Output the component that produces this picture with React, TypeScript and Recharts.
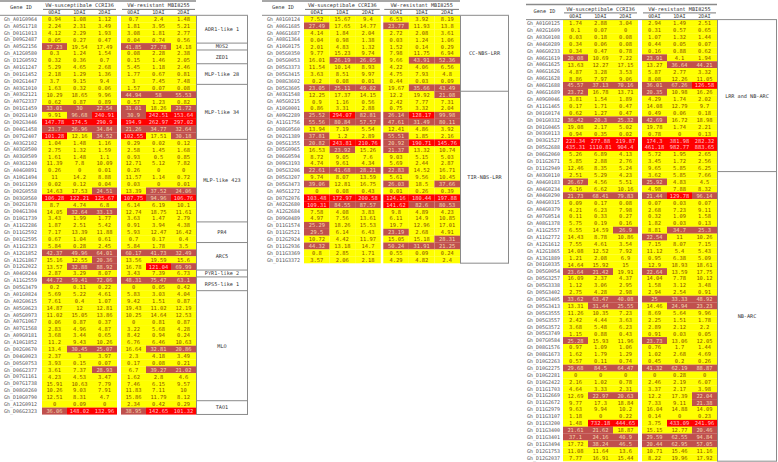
import React from "react";
import { BarChart, Bar, XAxis, YAxis } from "recharts";

// expression values (FPKM) of resistance genes, 0/1/2 days after inoculation
const TIMES = ["0DAI", "1DAI", "2DAI"];
const SUSC_TITLE = "VW-susceptibale CCRI36";
const RES_TITLE = "VW-resistant MBI8255";

const t1Genes = [
  "Gh_A01G0964", "Gh_A05G1718", "Gh_D01G1013", "Gh_D09G2487", "Gh_A05G2156", "Gh_A12G0580",
  "Gh_D12G0592", "Gh_A01G1247", "Gh_D01G1452", "Gh_D02G1447", "Gh_A03G1010", "Gh_A03G2121",
  "Gh_A07G2337", "Gh_D01G1459", "Gh_D02G1410", "Gh_D02G3446", "Gh_D04G1458", "Gh_D07G2407",
  "Gh_A03G2102", "Gh_A03G0500", "Gh_A03G0509", "Gh_A03G1240", "Gh_A04G0891", "Gh_A10G1494",
  "Gh_D01G1269", "Gh_D02G0558", "Gh_D03G0560", "Gh_D02G1678", "Gh_D04G1304", "Gh_D10G1739",
  "Gh_A11G2286", "Gh_D11G2592", "Gh_D01G2595", "Gh_A11G2323", "Gh_A12G1852", "Gh_A12G1867",
  "Gh_D12G2022", "Gh_A04G0244", "Gh_A11G2559", "Gh_D05G3479", "Gh_A01G0824", "Gh_A02G0615",
  "Gh_A05G0623", "Gh_A05G0973", "Gh_A07G1067", "Gh_A07G1568", "Gh_A09G0181", "Gh_A10G1852",
  "Gh_D02G0670", "Gh_D04G0023", "Gh_D05G0753", "Gh_D06G2377", "Gh_D07G1161", "Gh_D07G1738",
  "Gh_D08G0260", "Gh_D10G0790", "Gh_A12G0912", "Gh_D06G2323",
];
const t1Ccri36 = [
  [0.94, 1.08, 1.12], [2.24, 2.31, 3.49], [4.12, 2.29, 1.93], [0.05, 0.27, 0.47], [37.23, 19.54, 17.49],
  [0.3, 1.24, 1.54], [0.32, 0.36, 0.7], [5.29, 4.65, 2.68], [2.18, 1.29, 1.36], [3.7, 9.15, 9.4],
  [1.63, 0.32, 0.06], [10.29, 18.65, 9.96], [0.62, 0.87, 0.89], [33.01, 30, 22.54], [9.91, 96.68, 240.91],
  [147.78, 174.5, 290.9], [23.7, 26.96, 34.84], [101.28, 12.16, 34.52], [1.04, 1.48, 1.16], [2.75, 1.32, 1.59],
  [1.61, 1.48, 1.1], [11.39, 7.8, 10.09], [0.26, 0, 0.01], [11, 14.2, 8.88], [0.02, 0.12, 0.04],
  [14.63, 17.53, 24.51], [106.28, 122.21, 125.67], [8.7, 4.74, 6.8], [14.05, 32.64, 33.13], [3.43, 1.99, 1.77],
  [1.87, 2.51, 5.42], [7.17, 13.39, 11.88], [0.67, 1.04, 0.61], [5.84, 0.28, 2.45], [42.37, 49.96, 64.01],
  [15.16, 12.55, 20.36], [13.57, 32.88, 88.92], [2.87, 3.29, 8.07], [44.72, 59.41, 72.06], [0.2, 0.11, 0.22],
  [5.69, 5.22, 4.61], [7.61, 0.4, 1.07], [14.87, 12, 12.81], [11.02, 15.05, 13.86], [0.06, 0.87, 0.37],
  [2.83, 4.96, 4.87], [3.68, 3.44, 0.65], [11.2, 9.43, 10.26], [13.4, 30.45, 25.07], [2.37, 3, 3.97],
  [3.93, 0.15, 0.07], [3.61, 7.37, 28.93], [4.23, 4.53, 3.47], [15.91, 10.63, 7.79], [10.26, 9.03, 7.91],
  [12.51, 8.31, 4.7], [0, 0.09, 0], [36.06, 148.02, 132.96],
];
const t1Mbi8255 = [
  [0.7, 2.4, 1.48], [1.81, 3.95, 5.21], [3.08, 1.81, 2.77], [0.04, 0.74, 0.56], [41.85, 27.78, 14.18],
  [0.08, 2.28, 2.38], [0.15, 1.46, 2.05], [5.45, 1.18, 2.46], [1.77, 0.67, 0.81], [3, 7.45, 7.48],
  [1.57, 0.07, 0.08], [44.94, 58, 55.53], [0.57, 1.23, 0.82], [31.01, 18.26, 21.72], [30.9, 242.51, 153.64],
  [194.9, 262.97, 297.02], [21.26, 34.77, 32.64], [102.55, 17.51, 30.18], [0.29, 0.02, 0.12], [2.58, 1.45, 1.68],
  [0.93, 0.5, 0.85], [12.71, 5.12, 7.82], [0.26, 0, 0], [11.57, 1.14, 0.72], [0.03, 0, 0.01],
  [13.39, 37.52, 24.06], [107.75, 94.96, 106.76], [6.14, 6.19, 10.1], [12.74, 18.75, 11.61], [3.63, 1.47, 2.79],
  [0.91, 3.94, 4.38], [5.93, 12.47, 16.42], [0.7, 0.17, 0.4], [5.84, 1.78, 3.5], [60.17, 41.73, 32.49],
  [13.56, 19.59, 15.6], [16.78, 121.04, 69.99], [3.43, 7.39, 6.73], [48.31, 75.47, 63.1], [0, 0.05, 0.42],
  [5.83, 3.03, 4.04], [9.42, 1.51, 0.87], [19.43, 11.02, 12.19], [10.25, 14.64, 12.53], [0, 0.81, 0.87],
  [3.22, 5.68, 4.28], [8.42, 0.94, 0.24], [6.76, 6.46, 10.63], [16.64, 32.81, 20.86], [2.3, 4.18, 3.49],
  [0.17, 0.08, 0.21], [6.7, 39.27, 21.02], [1.62, 2.8, 4.6], [7.46, 6.15, 9.57], [11.83, 7.11, 10],
  [15.86, 11.79, 8.12], [2.34, 0.42, 0.29], [38.95, 142.65, 101.32],
];
const t1Groups: [string, number][] = [
  ["ADR1-like 1", 4], ["MOS2", 1], ["ZED1", 2], ["MLP-like 28", 3], ["MLP-like 34", 8],
  ["MLP-like 423", 12], ["PR4", 3], ["ARC5", 4], ["PYR1-like 2", 1], ["RPS5-like 1", 2],
  ["MLO", 16], ["TAO1", 2],
];

const t2Genes = [
  "Gh_A01G0124", "Gh_A06G1685", "Gh_A06G1687", "Gh_A08G1364", "Gh_A10G0175", "Gh_D05G0350",
  "Gh_D05G0053", "Gh_D05G3373", "Gh_D05G3415", "Gh_D08G3602", "Gh_D05G3605", "Gh_A03G1548",
  "Gh_A05G0215", "Gh_A10G0001", "Gh_A09G2289", "Gh_A11G1756", "Gh_D08G0560", "Gh_D02G1389",
  "Gh_D05G1355", "Gh_D05G0965", "Gh_D06G0594", "Gh_D09G3193", "Gh_D05G3206", "Gh_D05G3207",
  "Gh_D05G3473", "Gh_A05G1272", "Gh_D07G2076", "Gh_A02G2680", "Gh_A12G2684", "Gh_D09G0489",
  "Gh_D11G1574", "Gh_D11G2521", "Gh_D12G2924", "Gh_D11G2936", "Gh_D11G3369", "Gh_D11G3372",
];
const t2Ccri36 = [
  [7.52, 15.67, 9.4], [27.49, 17.65, 14.77], [4.14, 1.84, 2.04], [0.04, 0.98, 1.38], [2.01, 4.83, 1.32],
  [9.77, 15.23, 9.74], [16.01, 26.19, 26.05], [11.54, 10.14, 8.93], [3.63, 8.51, 9.97], [0.2, 0.08, 0.01],
  [23.05, 25.11, 49.02], [12.25, 17.37, 14.15], [0.9, 1.16, 0.56], [0.86, 3.31, 2.88], [25.52, 294.07, 82.81],
  [55.56, 80.84, 57.57], [13.94, 7.19, 5.54], [37.81, 1.2, 2.89], [20.82, 243.81, 210.76], [16.53, 23.92, 15.26],
  [8.72, 9.05, 7.6], [4.74, 9.61, 4.34], [22.61, 41.68, 28.21], [9.74, 8.07, 13.59], [39.06, 12.81, 16.75],
  [0, 0.08, 0.43], [103.48, 172.97, 200.58], [109.31, 84.55, 87.57], [7.58, 4.08, 3.83], [4.97, 7.56, 13.61],
  [25.29, 18.26, 15.53], [29.5, 6.14, 6.43], [10.72, 4.42, 11.97], [44.32, 13.18, 14.7], [0.8, 2.85, 1.71],
  [3.57, 2.06, 2.18],
];
const t2Mbi8255 = [
  [6.53, 3.92, 8.19], [23.77, 11.93, 13.8], [2.72, 2.08, 3.61], [0.03, 1.24, 1.06], [1.52, 0.14, 0.29],
  [7.98, 11.75, 6.94], [9.66, 43.91, 52.36], [4.22, 4.06, 6.56], [4.75, 7.93, 4.8], [0.44, 0.03, 0.09],
  [19.67, 35.66, 43.49], [12.2, 19.92, 21.08], [2.42, 7.77, 7.31], [0.75, 3.32, 2.04], [26.14, 128.17, 99.98],
  [47.61, 31.49, 80.11], [12.41, 4.86, 3.92], [55.51, 1.85, 2.16], [20.92, 190.71, 145.76], [21.37, 13.32, 10.74],
  [9.03, 5.15, 5.03], [5.69, 2.44, 2.87], [22.83, 14.52, 16.71], [5.61, 9.56, 10.45], [26.03, 18.5, 37.66],
  [0.01, 0.26, 0.39], [124.16, 180.44, 197.88], [141.62, 82.6, 80.53], [9.8, 4.89, 4.23], [6.11, 14.9, 10.85],
  [19.7, 12.96, 17.01], [23.19, 2.68, 4.91], [15.05, 15.18, 28.31], [50.24, 31.91, 21.25], [0.55, 0.09, 0.24],
  [4.29, 4.82, 2.4],
];
const t2Groups: [string, number][] = [["CC-NBS-LRR", 11], ["TIR-NBS-LRR", 25]];

const t3Genes = [
  "Gh_A01G0125", "Gh_A02G1609", "Gh_A03G0108", "Gh_A04G0289", "Gh_A06G0233", "Gh_A06G1619",
  "Gh_A06G1625", "Gh_A06G1626", "Gh_A06G1628", "Gh_A06G1688", "Gh_A06G1689", "Gh_A09G0046",
  "Gh_A11G1465", "Gh_D01G0174", "Gh_D01G0332", "Gh_D01G0465", "Gh_D03G0113", "Gh_D03G1527",
  "Gh_D05G2688", "Gh_D06G2060", "Gh_D11G2671", "Gh_D11G2949", "Gh_A03G0110", "Gh_A04G0183",
  "Gh_A04G0234", "Gh_A04G0290", "Gh_A04G0315", "Gh_A04G0379", "Gh_A07G0514", "Gh_A08G1378",
  "Gh_A11G2557", "Gh_A11G2772", "Gh_A12G1612", "Gh_A12G1865", "Gh_A13G1889", "Gh_D01G0335",
  "Gh_D05G0054", "Gh_D05G3257", "Gh_D05G3338", "Gh_D05G3402", "Gh_D05G3405", "Gh_D05G3413",
  "Gh_D05G3555", "Gh_D05G3557", "Gh_D05G3572", "Gh_D05G3749", "Gh_D07G0584", "Gh_D08G1576",
  "Gh_D08G1673", "Gh_D10G2263", "Gh_D10G2275", "Gh_D10G2281", "Gh_D10G2422", "Gh_D11G1703",
  "Gh_D11G2669", "Gh_D11G2672", "Gh_D11G2979", "Gh_D11G3107", "Gh_D11G3200", "Gh_D11G3400",
  "Gh_D11G3401", "Gh_D11G3494", "Gh_D12G1753", "Gh_D12G2037",
];
const t3Ccri36 = [
  [1.74, 2.88, 3.04], [0.1, 0.07, 0], [0.03, 0.18, 0.08], [0.34, 0.06, 0.08], [0.34, 0.47, 0.78],
  [20.08, 10.69, 7.22], [13.63, 12.27, 17.15], [4.87, 3.28, 3.53], [8.86, 7.97, 9.06], [45.57, 37.13, 70.16],
  [23.72, 16.78, 13.71], [3.81, 1.54, 1.89], [0.17, 1.71, 0.47], [0.62, 1.27, 0.47], [36.42, 20.3, 25.32],
  [19.08, 2.17, 5.02], [0.94, 0.35, 0.02], [223.34, 277.88, 219.87], [435.31, 1110.81, 904.4], [5.26, 6.89, 4.13],
  [5.85, 2.88, 2.76], [12.46, 8.35, 5.24], [2.51, 5.29, 4.23], [26.67, 4.56, 5.51], [6.16, 6.62, 10.16],
  [21.73, 68.41, 79.83], [0.09, 0.17, 0.08], [4.21, 6.23, 7.98], [0.11, 0.33, 0.27], [5.75, 0.19, 0.16],
  [6.55, 14.59, 26.9], [14.43, 8.78, 10.86], [7.55, 4.61, 3.54], [14.08, 12.52, 7.92], [1.21, 2.08, 6.9],
  [14.64, 15.92, 15], [23.64, 21.42, 19.91], [16.09, 2.37, 4.37], [1.12, 3.06, 2.95], [2.75, 4.28, 2.98],
  [33.62, 63.47, 40.08], [13.31, 31.44, 25.55], [11.26, 10.35, 7.23], [2.42, 4.44, 3.63], [3.68, 5.48, 6.23],
  [1.15, 0.88, 0.43], [25.28, 15.93, 11.96], [0.97, 1.09, 1.06], [1.62, 1.79, 1.29], [0.57, 0.11, 0.74],
  [29.68, 84.5, 64.47], [0, 0, 0], [2.16, 1.02, 0.78], [4.64, 3.33, 2.31], [12.69, 22.97, 20.63],
  [9.77, 17.3, 18.84], [9.63, 9.94, 10.2], [1.18, 0, 0.22], [1.48, 732.18, 444.65], [21.61, 21.62, 18.87],
  [37.1, 24.16, 40.9], [17.72, 38.24, 46.5], [11.08, 11.64, 13.6], [7.77, 16.91, 15.44],
];
const t3Mbi8255 = [
  [2.94, 1.49, 2.51], [0.31, 0.57, 0.65], [1.07, 1.32, 1.44], [0.44, 0.05, 0.07], [0.16, 0.88, 0.62],
  [23.91, 4.1, 1.94], [13.27, 36.64, 44.21], [5.87, 2.77, 3.32], [8.08, 12.26, 11.05], [36.01, 67.26, 126.58],
  [20.35, 10.98, 16.26], [4.29, 1.74, 2.02], [14.08, 12.79, 9.7], [0.49, 0.06, 0.18], [42.69, 16.72, 18.98],
  [19.78, 1.74, 2.21], [0.78, 0, 0.13], [174.3, 381.98, 282.32], [461.18, 982.77, 883.65], [5.72, 1.95, 2.65],
  [3.45, 1.72, 2.56], [9.65, 5.85, 6.25], [3.62, 5.85, 7.66], [25.92, 4.83, 4.5], [4.98, 7.88, 8.32],
  [21.44, 129.78, 96.14], [0.07, 0.03, 0.07], [2.68, 7.23, 9.11], [0.32, 1.09, 1.58], [1.82, 0.03, 0.13],
  [8.81, 34.7, 25.3], [22.54, 11, 10.26], [7.15, 8.07, 7.15], [11.12, 5.4, 5.43], [0.95, 6.38, 5.09],
  [12.9, 18.93, 18.61], [22.64, 13.59, 17.75], [14.04, 7.78, 10.12], [1.58, 3.12, 3.48], [2.94, 2.54, 0.91],
  [25, 33.33, 48.92], [14.46, 24.94, 23.23], [8.69, 5.64, 9.96], [2.25, 1.51, 1.78], [2.89, 2.12, 2.2],
  [0.91, 0.03, 0.05], [23.73, 13.06, 12.05], [0.76, 1.7, 1.44], [1.02, 2.68, 4.69], [0.45, 0.2, 0.26],
  [41.32, 62.19, 88.87], [0, 0.28, 0], [2.46, 2.19, 6.07], [3.37, 2.17, 3.98], [12.2, 17.39, 22.04],
  [7.33, 9.11, 21.38], [16.04, 14.88, 14.09], [0.14, 0, 0.23], [3.75, 433.09, 241.96], [15.15, 12.77, 20.46],
  [29.59, 62.55, 94.84], [20.44, 62.95, 57.05], [10.71, 15.46, 11.16], [8.22, 19.96, 17.92],
];
const t3Groups: [string, number][] = [["LRR and NB-ARC", 22], ["NB-ARC", 42]];

const W = 778;
const H = 462;
const FONT = "'DejaVu Sans Mono', monospace";
const LINE = "#8a8a8a";

const cellFill = (v: number) => (v >= 100 ? "#ff0000" : v >= 20 ? "#c0504d" : "#ffff00");
const cellInk = (v: number) => (v >= 100 ? "#ffc7ce" : v >= 20 ? "#f3d9b1" : "#8a4f00");

interface Layout {
  left: number;
  idW: number;
  dataW: number;
  boxW: number;
  hdr: number;
  top: number;
  rowH: number;
  gap: number;
  tickGap: number;
}

const t1Layout: Layout = { left: 0, idW: 42, dataW: 154, boxW: 52, hdr: 0, top: 15.6, rowH: 6.877, gap: 0.16, tickGap: 5 };
const t2Layout: Layout = { left: 262, idW: 42, dataW: 156, boxW: 49, hdr: 0, top: 15.6, rowH: 6.877, gap: 0.1, tickGap: 4 };
const t3Layout: Layout = { left: 526, idW: 37, dataW: 154, boxW: 60, hdr: 3.5, top: 19.9, rowH: 6.895, gap: 0.16, tickGap: 3 };

const cellShape = (key: string) => (p: any) => {
  const v = p.payload[key];
  return (
    <g>
      <rect x={p.x} y={p.y} width={p.width} height={p.height} fill={cellFill(v)} />
      <text
        x={p.x + p.width / 2}
        y={p.y + p.height / 2}
        dy="0.36em"
        textAnchor="middle"
        fontSize={5.4}
        fontFamily={FONT}
        fill={cellInk(v)}
      >
        {v}
      </text>
    </g>
  );
};

function HeatTable({ genes, sus, res, cfg }: { genes: string[]; sus: number[][]; res: number[][]; cfg: Layout }) {
  const rows = genes.map((gene, i) => ({
    gene,
    s0: sus[i][0], s1: sus[i][1], s2: sus[i][2],
    r0: res[i][0], r1: res[i][1], r2: res[i][2],
  }));
  const plotH = rows.length * cfg.rowH;
  return (
    <div style={{ position: "absolute", left: cfg.left, top: 0 }}>
      <BarChart
        layout="vertical"
        width={cfg.idW + cfg.dataW}
        height={H}
        data={rows}
        barCategoryGap={0}
        margin={{ top: cfg.top, right: 0, bottom: H - cfg.top - plotH, left: 0 }}
      >
        <XAxis type="number" domain={[0, 6 + cfg.gap]} hide />
        <YAxis
          type="category"
          dataKey="gene"
          width={cfg.idW}
          axisLine={false}
          tickLine={false}
          tickSize={0}
          tickMargin={cfg.tickGap}
          interval={0}
          tick={{ fontSize: 5, fill: "#555", fontFamily: FONT }}
        />
        {["s0", "s1", "s2"].map((k) => (
          <Bar key={k} dataKey={() => 1} stackId="row" shape={cellShape(k)} isAnimationActive={false} />
        ))}
        <Bar dataKey={() => cfg.gap} stackId="row" fill="transparent" isAnimationActive={false} />
        {["r0", "r1", "r2"].map((k) => (
          <Bar key={k} dataKey={() => 1} stackId="row" shape={cellShape(k)} isAnimationActive={false} />
        ))}
      </BarChart>
    </div>
  );
}

function Frame({ cfg, groups }: { cfg: Layout; groups: [string, number][] }) {
  const n = groups.reduce((a, g) => a + g[1], 0);
  const xd = cfg.left + cfg.idW;
  const xe = xd + cfg.dataW;
  const xb = xe + cfg.boxW;
  const colW = cfg.dataW / (6 + cfg.gap);
  const spans = [
    [xd, xd + 3 * colW],
    [xd + (3 + cfg.gap) * colW, xe],
  ];
  const h = cfg.hdr;
  const bottom = cfg.top + n * cfg.rowH;
  let acc = 0;
  const bands = groups.map(([label, count]) => {
    const y0 = cfg.top + acc * cfg.rowH;
    acc += count;
    return { label, y0, y1: cfg.top + acc * cfg.rowH };
  });
  const txt = { fontSize: 5.2, fontFamily: FONT, fill: "#333" };
  return (
    <g>
      <line x1={cfg.left} x2={xe} y1={h + 1} y2={h + 1} stroke={LINE} strokeWidth={1.5} />
      <text x={cfg.left + cfg.idW / 2} y={h + 7.6} dy="0.35em" textAnchor="middle" {...txt}>
        Gene ID
      </text>
      {spans.map(([a, b], i) => (
        <g key={i}>
          <text x={(a + b) / 2} y={h + 5.2} dy="0.35em" textAnchor="middle" {...txt}>
            {i === 0 ? SUSC_TITLE : RES_TITLE}
          </text>
          <line x1={a + 1} x2={b - 1} y1={h + 9.4} y2={h + 9.4} stroke="#555" strokeWidth={0.8} />
          {TIMES.map((t, j) => (
            <text key={t} x={a + (j + 0.5) * colW} y={h + 12.6} dy="0.35em" textAnchor="middle" {...txt}>
              {t}
            </text>
          ))}
        </g>
      ))}
      <line x1={cfg.left} x2={xb} y1={cfg.top - 0.3} y2={cfg.top - 0.3} stroke={LINE} strokeWidth={1} />
      <line x1={xe + 0.5} x2={xe + 0.5} y1={cfg.top} y2={bottom} stroke={LINE} strokeWidth={1} />
      <line x1={xb - 0.5} x2={xb - 0.5} y1={cfg.top} y2={bottom} stroke={LINE} strokeWidth={1} />
      {bands.map((b) => (
        <g key={b.label}>
          <line x1={xe} x2={xb} y1={b.y1} y2={b.y1} stroke={LINE} strokeWidth={1} />
          <text x={(xe + xb) / 2} y={(b.y0 + b.y1) / 2} dy="0.35em" textAnchor="middle" {...txt}>
            {b.label}
          </text>
        </g>
      ))}
    </g>
  );
}

export default function App() {
  return (
    <div style={{ position: "absolute", left: 0, top: 0, width: W, height: H, background: "#fff", overflow: "hidden" }}>
      <HeatTable genes={t1Genes} sus={t1Ccri36} res={t1Mbi8255} cfg={t1Layout} />
      <HeatTable genes={t2Genes} sus={t2Ccri36} res={t2Mbi8255} cfg={t2Layout} />
      <HeatTable genes={t3Genes} sus={t3Ccri36} res={t3Mbi8255} cfg={t3Layout} />
      <svg width={W} height={H} style={{ position: "absolute", left: 0, top: 0, pointerEvents: "none" }}>
        <Frame cfg={t1Layout} groups={t1Groups} />
        <Frame cfg={t2Layout} groups={t2Groups} />
        <Frame cfg={t3Layout} groups={t3Groups} />
      </svg>
    </div>
  );
}
